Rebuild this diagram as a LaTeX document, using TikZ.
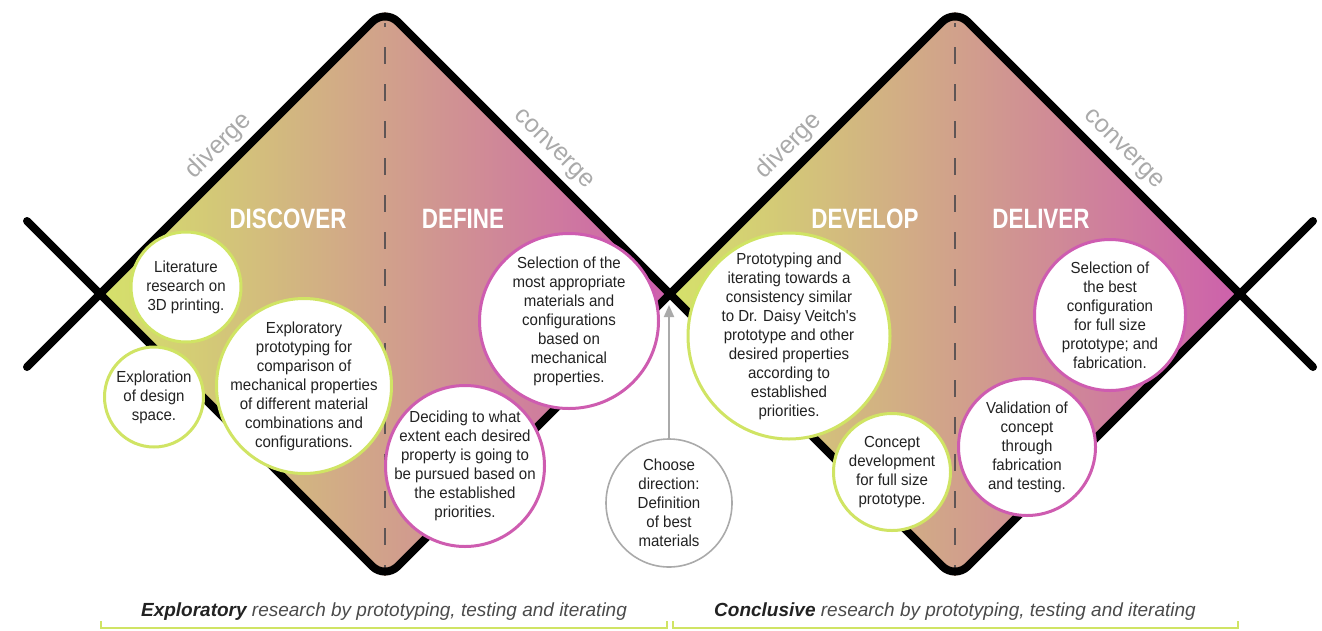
\documentclass[tikz,border=0pt]{standalone}
\usepackage{fontspec}
\setmainfont{Liberation Sans}
\newfontfamily\titlefont{Liberation Sans}[FakeStretch=0.8]
\newfontfamily\bodyfont{Liberation Sans}[FakeStretch=0.94]
\usetikzlibrary{arrows.meta}

\definecolor{lime}{RGB}{208,228,100}
\definecolor{rose}{RGB}{206,92,176}
\definecolor{fillL}{RGB}{213,226,106}
\definecolor{fillM}{RGB}{209,164,146}
\definecolor{fillR}{RGB}{205,96,172}
\definecolor{ink}{RGB}{34,34,34}
\definecolor{soft}{RGB}{170,170,170}
\definecolor{dashgray}{RGB}{95,85,85}
\definecolor{capgray}{RGB}{75,75,75}

\tikzset{
  bubbletext/.style={inner sep=0pt, align=center, text=ink,
    font=\bodyfont\fontsize{16}{19}\selectfont},
  greenring/.style={fill=white, draw=lime, line width=3pt},
  pinkring/.style={fill=white, draw=rose, line width=3pt},
  grayring/.style={fill=white, draw=soft, line width=1.6pt},
  phase/.style={text=white, font=\titlefont\bfseries\fontsize{28}{30}\selectfont, anchor=base},
  trend/.style={text=soft, font=\fontsize{25}{28}\selectfont},
  outline/.style={line width=8pt, line cap=round, line join=round, rounded corners=18pt},
  midline/.style={dashgray, line width=1.5pt, dash pattern=on 17pt off 20pt, dash phase=13pt},
  bracket/.style={lime, line width=1.6pt},
  caption/.style={text=capgray, anchor=base, font=\fontsize{19}{22}\selectfont\itshape}
}

% white bubble: ring style, node name, centre, x radius, y radius, text
\newcommand\bubble[6]{%
  \path[#1] #3 ellipse [x radius=#4pt, y radius=#5pt];
  \node[bubbletext] (#2) at #3 {#6};}

\begin{document}
\begin{tikzpicture}[x=1pt,y=-1pt]
\useasboundingbox (0,0) rectangle (1322,630);

% shaded diamonds, rounded at top and bottom
\foreach \dx in {0,570}{
  \begin{scope}[xshift=\dx pt]
    \shade[left color=fillL, middle color=fillM, right color=fillR]
      (100,294) -- (372,22) .. controls (385,9) .. (398,22) -- (670,294)
      -- (398,566) .. controls (385,579) .. (372,566) -- cycle;
    \draw[midline] (385,23) -- (385,568);
  \end{scope}
}

% the two crossing outlines
\draw[outline] (27,367) -- (385,9) -- (955,579) -- (1313,221);
\draw[outline] (27,221) -- (385,579) -- (955,9) -- (1313,367);

% phase titles
\node[phase] (discover) at (288,228) {DISCOVER};
\node[phase] (define)   at (463,228) {DEFINE};
\node[phase] (develop)  at (865,228) {DEVELOP};
\node[phase] (deliver)  at (1041,228) {DELIVER};

% diverge / converge labels
\node[trend, rotate=45]  (div1) at (219,146) {diverge};
\node[trend, rotate=-45] (con1) at (553,150) {converge};
\node[trend, rotate=45]  (div2) at (789,146) {diverge};
\node[trend, rotate=-45] (con2) at (1123,150) {converge};

% first diamond bubbles
\bubble{greenring}{lit}{(186,287)}{55}{55}
  {Literature\\research on\\3D printing.}
\bubble{greenring}{space}{(154,397)}{49.5}{50}
  {Exploration\\of design\\space.}
\bubble{greenring}{explo}{(304,386)}{87.5}{87.5}
  {Exploratory\\prototyping for\\comparison of\\mechanical properties\\of different material\\combinations and\\configurations.}
\bubble{pinkring}{select}{(569,321)}{89.5}{87.5}
  {Selection of the\\most appropriate\\materials and\\configurations\\based on\\mechanical\\properties.}
\bubble{pinkring}{decide}{(465,466)}{79.5}{80.5}
  {Deciding to what\\extent each desired\\property is going to\\be pursued based on\\the established\\priorities.}

% decision point between the diamonds
\bubble{grayring}{choose}{(669,503)}{63}{64}
  {Choose\\direction:\\Definition\\of best\\materials}
\coordinate (choosetop) at (669,439);
\coordinate (cross) at (669,305);
\draw[soft, line width=2pt, -{Triangle[length=12pt, width=10pt]}] (choosetop) -- (cross);

% second diamond bubbles
\bubble{greenring}{proto}{(789,336)}{101}{103}
  {Prototyping and\\iterating towards a\\consistency similar\\to Dr. Daisy Veitch's\\prototype and other\\desired properties\\according to\\established\\priorities.}
\bubble{greenring}{concept}{(892,472)}{58.5}{58.5}
  {Concept\\development\\for full size\\prototype.}
\bubble{pinkring}{best}{(1110,315)}{75.5}{75.5}
  {Selection of\\the best\\configuration\\for full size\\prototype; and\\fabrication.}
\bubble{pinkring}{valid}{(1027,447)}{68.5}{68.5}
  {Validation of\\concept\\through\\fabrication\\and testing.}

% captions and brackets
\node[caption] (capA) at (384,616) {{\color{ink}\bfseries Exploratory} research by prototyping, testing and iterating};
\node[caption] (capB) at (955,616) {{\color{ink}\bfseries Conclusive} research by prototyping, testing and iterating};
\draw[bracket] (101,621) -- (101,628) -- (667,628) -- (667,621);
\draw[bracket] (673,621) -- (673,628) -- (1238,628) -- (1238,621);
\end{tikzpicture}
\end{document}
